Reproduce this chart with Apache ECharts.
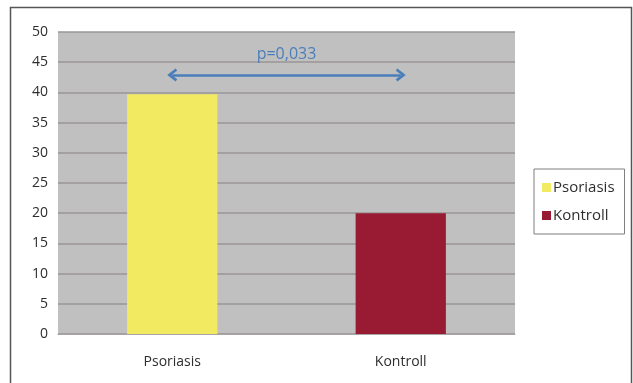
<!DOCTYPE html>
<html>
<head>
<meta charset="utf-8">
<script src="https://cdn.jsdelivr.net/npm/echarts@6/dist/echarts.min.js"></script>
<style>
html,body{margin:0;padding:0;background:#fff;}
#c{width:633px;height:383px;}
</style>
</head>
<body>
<div id="c"></div>
<script>
const categories = ['Psoriasis', 'Kontroll'];
const seriesNames = ['Psoriasis', 'Kontroll'];
const psoriasisValues = [39.7, '-'];
const kontrollValues = ['-', 20];
const seriesColors = ['#f2ea60', '#981a33'];
const yTicks = { min: 0, max: 50, interval: 5 };
const annotationText = 'p=0,033';
const annotationY = 42.9;

const chart = echarts.init(document.getElementById('c'), null, { renderer: 'canvas' });
const font = 'Open Sans, Lato, sans-serif';
const arrowHead = 'path://M5,0 L10,8 L8.4,9.6 L5,4.2 L1.6,9.6 L0,8 Z';

chart.setOption({
  animation: false,
  backgroundColor: '#ffffff',
  graphic: [{
    type: 'rect',
    shape: { x: 10.5, y: 7.5, width: 621, height: 400 },
    style: { fill: 'none', stroke: '#555555', lineWidth: 1.5 },
    silent: true
  }],
  grid: {
    left: 58, right: 118, top: 32, bottom: 49,
    show: true, backgroundColor: '#c0c0c0', borderWidth: 0
  },
  legend: {
    data: seriesNames,
    orient: 'vertical',
    left: 534, top: 169,
    padding: [11, 10, 11, 8],
    itemGap: 13,
    itemWidth: 9, itemHeight: 9,
    icon: 'rect',
    borderColor: '#7f7f7f', borderWidth: 1,
    textStyle: { fontFamily: font, fontSize: 15, color: '#2e2e2e', padding: [0, 0, 0, -3] }
  },
  xAxis: {
    type: 'category',
    data: categories,
    axisLine: { show: true, lineStyle: { color: '#a8a4a4', width: 1 } },
    axisTick: { show: false },
    axisLabel: { fontFamily: font, fontSize: 14, color: '#2e2e2e', margin: 21 }
  },
  yAxis: {
    type: 'value',
    min: yTicks.min, max: yTicks.max, interval: yTicks.interval,
    axisLine: { show: false },
    axisTick: { show: false },
    axisLabel: { fontFamily: font, fontSize: 14, color: '#2e2e2e', margin: 10 },
    splitLine: { show: true, lineStyle: { color: '#9c9696', width: 1.5 } }
  },
  series: [
    {
      name: seriesNames[0], type: 'bar', data: psoriasisValues,
      barWidth: '39.5%', barGap: '-100%',
      itemStyle: { color: seriesColors[0] },
      markLine: {
        silent: true,
        symbol: [arrowHead, arrowHead],
        symbolSize: [13, 10],
        lineStyle: { color: '#4a7ebb', width: 2.5, type: 'solid' },
        label: {
          show: true, position: 'middle', formatter: annotationText,
          fontFamily: font, fontSize: 16, color: '#4a7ebb', distance: 12
        },
        data: [[
          { coord: [0, annotationY] },
          { coord: [1, annotationY] }
        ]]
      }
    },
    {
      name: seriesNames[1], type: 'bar', data: kontrollValues,
      barWidth: '39.5%', barGap: '-100%',
      itemStyle: { color: seriesColors[1] }
    }
  ]
});
</script>
</body>
</html>
